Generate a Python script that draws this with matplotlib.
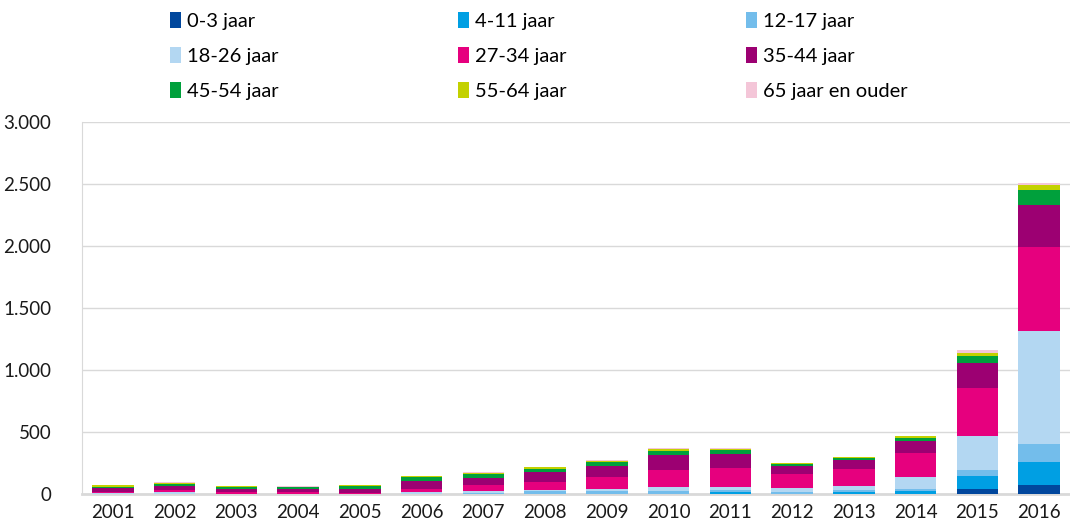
import numpy as np
import matplotlib
matplotlib.use("Agg")
import matplotlib.pyplot as plt
import matplotlib.ticker as mticker

plt.rcParams["font.family"] = ["Lato", "DejaVu Sans"]

years = [str(y) for y in range(2001, 2017)]

age_labels = [
    "0-3 jaar", "4-11 jaar", "12-17 jaar",
    "18-26 jaar", "27-34 jaar", "35-44 jaar",
    "45-54 jaar", "55-64 jaar", "65 jaar en ouder",
]

age_colors = [
    "#01479D", "#009FE3", "#73BDEB",
    "#B3D7F2", "#E6007E", "#9C0072",
    "#00A03C", "#C3D100", "#F4C6D8",
]

# values per age group, 2001..2016
v_0_3   = [0, 0, 0, 0, 0, 0, 0, 0, 0, 0, 2, 1, 1, 3, 38, 70]
v_4_11  = [0, 0, 0, 0, 0, 0, 1, 1, 2, 3, 16, 2, 15, 22, 107, 185]
v_12_17 = [1, 3, 1, 1, 1, 3, 8, 20, 24, 24, 16, 13, 18, 19, 46, 150]
v_18_26 = [4, 10, 3, 3, 2, 10, 13, 13, 19, 27, 21, 32, 35, 97, 274, 908]
v_27_34 = [10, 16, 12, 15, 8, 24, 48, 61, 96, 144, 158, 118, 132, 191, 389, 682]
v_35_44 = [33, 36, 27, 22, 33, 67, 59, 86, 86, 120, 110, 62, 70, 97, 201, 336]
v_45_54 = [13, 18, 14, 14, 19, 32, 32, 24, 35, 29, 32, 13, 19, 21, 62, 126]
v_55_64 = [10, 8, 9, 6, 8, 11, 11, 11, 8, 13, 11, 10, 10, 16, 21, 38]
v_65up  = [4, 4, 2, 2, 2, 2, 3, 3, 2, 8, 3, 2, 3, 5, 21, 16]

series = [v_0_3, v_4_11, v_12_17, v_18_26, v_27_34,
          v_35_44, v_45_54, v_55_64, v_65up]

fig = plt.figure(figsize=(10.7, 5.29), dpi=100)
ax = fig.add_axes([0.0766, 0.066, 0.9234, 0.703])

x = np.arange(len(years))
bottom = np.zeros(len(years))
handles = []
for vals, lab, col in zip(series, age_labels, age_colors):
    b = ax.bar(x, vals, bottom=bottom, width=0.67, color=col,
               linewidth=0, label=lab, zorder=3)
    handles.append(b)
    bottom += np.array(vals)

ax.set_xlim(-0.5, len(years) - 0.5)
ax.set_ylim(0, 3000)
ax.set_xticks(x)
ax.set_xticklabels(years)
ax.yaxis.set_major_locator(mticker.MultipleLocator(500))
ax.yaxis.set_major_formatter(
    mticker.FuncFormatter(lambda v, _: f"{int(v):,}".replace(",", ".")))
ax.tick_params(axis="both", length=0, labelsize=13.5, colors="#1a1a1a")
ax.tick_params(axis="y", pad=22)
ax.tick_params(axis="x", pad=7)

ax.grid(axis="y", color="#D9D9D9", linewidth=1, zorder=0)
for side in ["top", "right"]:
    ax.spines[side].set_visible(False)
ax.spines["left"].set_color("#D9D9D9")
ax.spines["bottom"].set_color("#D9D9D9")
ax.spines["bottom"].set_linewidth(2)

# legend reads row by row, matplotlib fills columns first
order = [0, 3, 6, 1, 4, 7, 2, 5, 8]
fig.legend([handles[i] for i in order], [age_labels[i] for i in order],
           ncol=3, loc="upper left", bbox_to_anchor=(0.142, 1.012),
           frameon=False, fontsize=14.5, handlelength=0.55, handleheight=0.85,
           handletextpad=0.3, columnspacing=8.9, labelspacing=0.85)

fig.savefig("out.png", dpi=100)
